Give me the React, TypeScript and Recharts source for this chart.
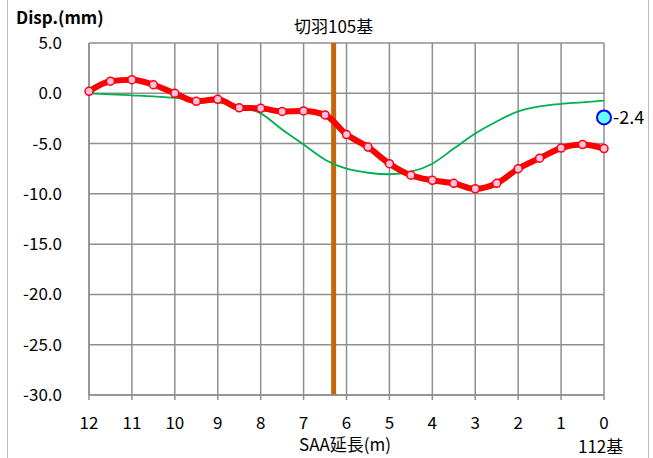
import { LineChart, Line, XAxis, YAxis, CartesianGrid, ReferenceLine } from "recharts"

// distance along the SAA (m), measured from ring 112 outward
const positions = [12, 11.5, 11, 10.5, 10, 9.5, 9, 8.5, 8, 7.5, 7, 6.5, 6, 5.5, 5, 4.5, 4, 3.5, 3, 2.5, 2, 1.5, 1, 0.5, 0]
const currentDisp = [0.2, 1.2, 1.35, 0.85, 0.0, -0.8, -0.6, -1.45, -1.5, -1.8, -1.75, -2.15, -4.1, -5.35, -7.0, -8.15, -8.65, -8.95, -9.5, -8.95, -7.5, -6.45, -5.45, -5.1, -5.5]
const previousDisp = [0, -0.1, -0.2, -0.3, -0.45, -0.65, -0.9, -1.3, -2.0, -3.6, -5.1, -6.6, -7.5, -7.9, -8.05, -7.8, -7.0, -5.5, -4.0, -2.8, -1.8, -1.3, -1.05, -0.9, -0.72]
const headPoint = { x: 0, value: -2.4 }
const faceAt = 6.3

const xTicks = [12, 11, 10, 9, 8, 7, 6, 5, 4, 3, 2, 1, 0]
const yTicks = [5, 0, -5, -10, -15, -20, -25, -30]

const data = positions.map((x, i) => ({
    x,
    current: currentDisp[i],
    previous: previousDisp[i],
    head: x === headPoint.x ? headPoint.value : null,
}))

const font = "'Noto Sans CJK JP', 'Noto Sans', sans-serif"
const gridColor = "#8f8f8f"

const HeadLabel = (props: any) => {
    const { x, y, value } = props
    if (value == null) return null
    return (
        <text x={x + 9} y={y + 7} fontSize={18} fontFamily={font} fill="#000">
            {value.toFixed(1)}
        </text>
    )
}

const App = () => {
    return (
        <div style={{ position: "absolute", left: 0, top: 0, width: 653, height: 458, background: "#fff" }}>
            <div style={{ position: "absolute", left: 7, top: 0, width: 1, height: 458, background: "#bdbdbd" }} />
            <div style={{ position: "absolute", left: 648, top: 0, width: 1, height: 458, background: "#bdbdbd" }} />
            <div style={{ position: "absolute", left: 16, top: 5, fontFamily: font, fontWeight: 700, fontSize: 17, lineHeight: "24px" }}>
                Disp.(mm)
            </div>
            <LineChart width={653} height={458} data={data} margin={{ top: 43, right: 49, bottom: 0, left: 0 }}>
                <CartesianGrid stroke={gridColor} strokeWidth={1.5} />
                <XAxis
                    dataKey="x"
                    type="number"
                    domain={[0, 12]}
                    ticks={xTicks}
                    reversed
                    height={63}
                    interval={0}
                    stroke={gridColor}
                    strokeWidth={1.5}
                    tickSize={5}
                    tickMargin={17}
                    tick={{ fill: "#000", fontSize: 17, fontFamily: font }}
                />
                <YAxis
                    type="number"
                    domain={[-30, 5]}
                    ticks={yTicks}
                    width={89}
                    interval={0}
                    stroke={gridColor}
                    strokeWidth={1.5}
                    tickLine={false}
                    tickSize={0}
                    tickMargin={27}
                    tickFormatter={(v: number) => v.toFixed(1)}
                    tick={{ fill: "#000", fontSize: 17, fontFamily: font }}
                />
                <ReferenceLine
                    x={faceAt}
                    stroke="#c8650a"
                    strokeWidth={5}
                    label={{ value: "切羽105基", position: "top", offset: 10, fill: "#000", fontSize: 17, fontFamily: font }}
                />
                <Line
                    dataKey="previous"
                    type="monotone"
                    stroke="#00b050"
                    strokeWidth={1.8}
                    dot={false}
                    isAnimationActive={false}
                />
                <Line
                    dataKey="current"
                    type="monotone"
                    stroke="#ff0000"
                    strokeWidth={6}
                    dot={{ r: 4, fill: "#ffc0e8", stroke: "#ff0000", strokeWidth: 1.5 }}
                    isAnimationActive={false}
                />
                <Line
                    dataKey="head"
                    stroke="none"
                    dot={{ r: 7, fill: "#66ffff", stroke: "#0000ff", strokeWidth: 2 }}
                    label={<HeadLabel />}
                    isAnimationActive={false}
                />
            </LineChart>
            <div style={{ position: "absolute", left: 0, width: 690, top: 432, textAlign: "center", fontFamily: font, fontSize: 17, lineHeight: "24px" }}>
                SAA延長(m)
            </div>
            <div style={{ position: "absolute", left: 578, top: 434, fontFamily: font, fontSize: 17, lineHeight: "24px" }}>
                112基
            </div>
        </div>
    )
}

export default App
